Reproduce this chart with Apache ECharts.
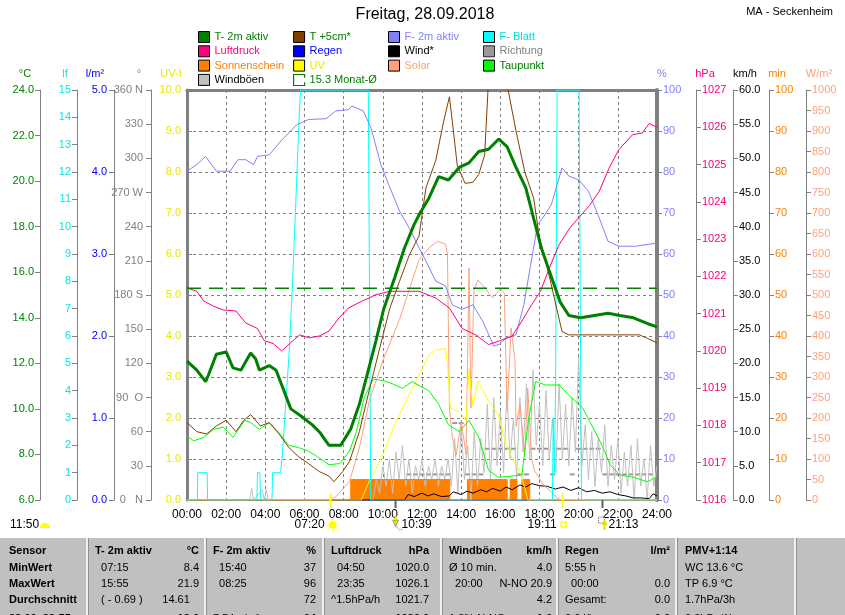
<!DOCTYPE html>
<html>
<head>
<meta charset="utf-8">
<title>Freitag, 28.09.2018</title>
<script src="https://cdn.jsdelivr.net/npm/echarts/dist/echarts.min.js"></script>
<style>
html,body{margin:0;padding:0;background:#ffffff;}
#chart{width:845px;height:615px;}
</style>
</head>
<body>
<div id="chart"></div>
<script>
// ================= DATA =================
const hourLabels = ['00:00','02:00','04:00','06:00','08:00','10:00','12:00','14:00','16:00','18:00','20:00','22:00','24:00'];
const directionLabels = {0:'0   N', 90:'90  O', 180:'180 S', 270:'270 W', 360:'360 N'};

// [hour, °C]
const temp2m = [[0,12.1],[0.5,11.7],[0.95,11.2],[1.1,11.5],[1.5,12.4],[2.0,12.5],[2.35,11.8],[2.75,11.7],[3.25,12.45],[3.5,12.2],[3.7,11.7],[4.2,11.9],[4.55,11.7],[4.95,10.8],[5.3,10.0],[5.8,9.7],[6.4,9.3],[6.8,8.95],[7.25,8.4],[7.85,8.4],[8.35,9.1],[8.8,10.2],[9.2,11.5],[9.65,13.0],[10.05,14.4],[10.6,15.75],[11.1,17.05],[11.6,18.1],[11.9,18.6],[12.35,19.25],[12.85,20.2],[13.35,20.05],[13.9,20.6],[14.4,20.8],[14.9,21.3],[15.4,21.4],[15.92,21.85],[16.35,21.5],[16.8,20.6],[17.3,19.7],[17.75,18.2],[18.1,17.05],[18.5,16.05],[19.05,14.7],[19.5,14.1],[20.1,14.0],[20.8,14.1],[21.5,14.2],[22.1,14.1],[22.8,14.0],[23.5,13.75],[24,13.6]];
const temp5cm = [[0,9.4],[0.5,9.0],[1.0,8.9],[1.5,9.25],[2.0,9.5],[2.5,9.0],[2.9,9.5],[3.25,9.75],[3.75,9.25],[4.2,9.4],[4.7,8.9],[5.2,8.3],[5.7,7.9],[6.2,7.6],[6.75,7.25],[7.25,7.05],[7.5,6.8],[7.95,7.25],[8.3,7.7],[8.8,9.0],[9.3,10.8],[9.85,12.7],[10.35,14.4],[10.85,15.6],[11.35,16.75],[11.85,17.6],[12.2,19.7],[12.7,20.9],[13.1,22.6],[13.4,23.7],[13.55,22.6],[13.8,20.7],[14.2,19.9],[14.6,19.95],[14.9,20.3],[15.2,21.15],[15.4,24.5],[15.6,25.5],[16.0,26.0],[16.4,24.0],[16.8,22.2],[17.25,20.4],[17.7,19.25],[18.0,17.5],[18.4,16.2],[18.8,14.7],[19.15,13.4],[19.5,13.25],[23.1,13.25],[23.5,13.1],[24,12.9]];
const dewPoint = [[0,8.8],[0.35,8.6],[0.85,8.75],[1.35,9.1],[1.85,9.2],[2.35,8.75],[2.95,9.5],[3.25,9.4],[3.7,9.1],[4.2,9.4],[4.7,8.95],[5.2,8.4],[5.7,8.3],[6.2,8.15],[6.75,7.85],[7.25,7.55],[7.8,7.6],[8.3,8.15],[8.65,9.0],[9.05,10.5],[9.5,11.3],[10.0,11.25],[10.5,11.1],[11.0,10.9],[11.5,11.2],[11.9,11.0],[12.35,10.8],[12.85,10.2],[13.35,9.3],[13.9,9.0],[14.4,9.5],[14.9,8.75],[15.4,7.3],[15.9,7.0],[16.6,7.05],[17.1,7.1],[17.45,9.6],[17.8,11.2],[18.3,11.05],[19.0,11.05],[19.5,10.6],[20.2,10.05],[20.75,9.15],[21.25,8.3],[21.6,7.55],[22.1,7.1],[22.8,7.0],[23.5,6.8],[24,7.0]];
const monthMean = 15.3;
// [hour, %]
const humidity2m = [[0,80.2],[0.5,81.8],[0.95,83.8],[1.5,80.2],[2.2,80.2],[2.6,83],[3.0,83],[3.4,81.8],[3.6,83.8],[4.2,84.2],[4.8,87.6],[5.6,91.5],[6.2,92.8],[7.1,93],[7.6,94.9],[8.25,95.2],[8.42,96.1],[9.0,94.9],[9.4,90.7],[9.9,81.8],[10.3,76.9],[10.85,70.5],[11.35,66.3],[11.85,61.5],[12.2,58.3],[12.7,53.4],[13.2,52.2],[13.55,47.6],[14.05,46.5],[14.6,47.6],[15.1,43.6],[15.67,37.5],[15.95,38],[16.3,39.5],[16.8,40.3],[17.2,47.6],[17.55,57.4],[17.9,67.1],[18.2,69],[18.6,72],[18.9,76.9],[19.15,81],[19.5,79],[20.0,78.1],[20.5,75.3],[21.0,69.4],[21.5,63.1],[22.05,61.9],[22.9,61.9],[23.9,62.6],[24,62.6]];
// [hour, lf]
const leafWetness = [[0,0],[0.53,0],[0.55,1],[1.03,1],[1.05,0],[3.57,0],[3.6,1],[3.72,1],[3.75,0],[4.34,0],[4.37,1],[4.78,1],[4.87,1.65],[5.04,3.5],[5.21,5.3],[5.38,7.75],[5.55,10.8],[5.72,13.9],[5.8,15],[9.26,15],[9.38,0],[18.66,0],[18.7,3],[18.76,1],[18.82,4],[18.9,15],[20.02,15],[20.14,0],[24,0]];
// [hour, hPa]
const pressure = [[0,1021.69],[0.5,1021.6],[0.85,1021.34],[1.35,1021.2],[1.85,1021.1],[2.5,1021.07],[3.0,1020.75],[3.6,1020.6],[3.95,1020.27],[4.4,1020.2],[4.83,1020.0],[5.25,1020.2],[5.75,1020.43],[6.25,1020.35],[6.75,1020.4],[7.25,1020.53],[7.75,1020.88],[8.25,1021.15],[8.95,1021.34],[9.3,1021.42],[9.6,1021.5],[10.35,1021.6],[11.0,1021.6],[11.85,1021.6],[12.7,1021.42],[13.4,1021.15],[14.05,1020.6],[14.75,1020.43],[15.4,1020.17],[15.95,1020.27],[16.6,1020.4],[17.1,1020.8],[17.6,1021.24],[18.05,1021.6],[18.5,1022.22],[19.0,1022.85],[19.55,1023.3],[20.05,1023.6],[20.55,1023.9],[21.05,1024.28],[21.55,1024.9],[22.05,1025.4],[22.75,1025.8],[23.25,1025.85],[23.6,1026.1],[24,1026.0]];
// [hour, l/m²]
const rain = [[0,0],[24,0]];
// [hour, km/h]
const wind = [[0,0],[11.1,0],[11.3,0.8],[11.6,0.5],[12.0,1.0],[12.3,0.6],[12.6,0.9],[13.0,0.5],[13.4,0.6],[13.6,1.2],[14.0,0.8],[14.3,1.3],[14.6,1.0],[15.0,1.5],[15.3,1.2],[15.6,1.7],[16.0,1.3],[16.3,1.9],[16.6,1.5],[17.0,2.2],[17.3,1.9],[17.6,2.4],[18.0,2.1],[18.4,2.0],[18.8,1.6],[19.2,1.9],[19.6,1.4],[20.0,1.8],[20.4,1.2],[20.8,1.4],[21.2,1.0],[21.6,1.2],[22.0,0.8],[22.4,0.6],[22.8,0.3],[23.2,0.3],[23.6,0.2],[23.8,0.9],[24,0.6]];
const gustEarly = [[0,0],[3.2,0],[3.3,1.7],[3.4,0],[3.85,1.5],[3.95,0],[4.05,1.5],[4.15,0],[9.3,0]];
const gustStartHour = 9.5;
const gustStepHours = 1/6;
const gustValues = [0,3,1,5,2,6,1,7,3,8,2,6,1,5,3,6,2,5,3,6,2,5,3,6,2,9,1,11,3,8,0,10,2,9,4,14,3,15,5,13,4,16,6,12,3,15,7,17,6,19,8,14,5,16,6,12,4,17,6,14,5,15,7,20.9,5,11,3,10,2,9,4,11,2,8,3,9,1,7,2,8,0,9,2,6,0,8,2,5];
// [hour, degrees]
const windDirection = [[11.33,22.5],[11.67,22.5],[12.0,22.5],[12.33,22.5],[12.67,22.5],[13.0,22.5],[13.33,22.5],[13.67,67.5],[14.0,67.5],[14.33,22.5],[14.67,22.5],[15.0,22.5],[15.33,45],[15.67,45],[16.0,45],[16.33,45],[16.67,45],[17.0,22.5],[17.33,22.5],[17.67,45],[18.0,45],[18.33,45],[18.67,22.5],[19.0,45],[19.33,45],[19.67,22.5],[20.0,45],[20.33,45],[20.67,45],[21.0,45],[21.33,22.5],[21.67,22.5],[22.0,22.5],[22.33,22.5],[22.67,22.5],[23.0,22.5],[23.33,22.5],[23.67,22.5]];
// [hour, sunshine minutes] (step, value holds until next point)
const sunshine = [[0,0],[8.36,5],[13.42,0],[14.32,5],[16.35,0],[16.5,5],[16.85,0],[17.1,5],[17.5,0],[24,0]];
// [hour, UV-index]
const uvIndex = [[0,0],[8.9,0],[9.3,0.45],[10.0,1.1],[10.65,1.9],[11.35,2.57],[11.9,3.1],[12.36,3.54],[12.7,3.66],[13.2,3.7],[13.3,3.3],[13.45,2.24],[13.9,2.15],[14.25,1.95],[14.4,3.18],[14.6,2.3],[14.85,2.9],[15.4,2.41],[15.9,2.08],[16.25,1.43],[16.6,1.02],[17.0,0.7],[17.25,0.3],[17.4,0],[24,0]];
// [hour, W/m²]
const solar = [[0,0],[7.3,0],[7.6,8],[8.3,45],[8.8,127],[9.3,240],[10.0,340],[10.85,440],[11.5,535],[11.85,586],[12.36,615],[12.8,631],[13.2,624],[13.3,600],[13.4,224],[13.55,151],[13.75,110],[14.0,193],[14.25,110],[14.4,566],[14.5,224],[14.65,510],[14.85,537],[15.25,515],[15.6,493],[16.0,515],[16.2,505],[16.35,217],[16.55,420],[16.75,339],[16.8,180],[17.0,232],[17.25,110],[17.4,273],[17.6,100],[17.75,71],[18.2,37],[18.6,20],[18.9,5],[19.1,0],[24,0]];

const sunMoonEvents = [
  {label:'07:20', hour:7+20/60, kind:'sunrise'},
  {label:'10:39', hour:10+39/60, kind:'moonset'},
  {label:'19:11', hour:19+11/60, kind:'sunset'},
  {label:'21:13', hour:21+13/60, kind:'moonrise'}
];
const prevEventLabel = '11:50';

const legendColumns = [
  [['T- 2m aktiv','#008000'],['Luftdruck','#ff0080'],['Sonnenschein','#ff8000'],['Windböen','#000000']],
  [['T +5cm*','#008000'],['Regen','#0000ff'],['UV','#e8e800'],['15.3 Monat-Ø','#008000']],
  [['F- 2m aktiv','#8080ff'],['Wind*','#000000'],['Solar','#ffa07a']],
  [['F- Blatt','#00e0e0'],['Richtung','#808080'],['Taupunkt','#008000']]
];

// table: each row -> per column [leftText, rightText]
const tableRows = [
  [['Sensor',''],['T- 2m aktiv','°C'],['F- 2m aktiv','%'],['Luftdruck','hPa'],['Windböen','km/h'],['Regen','l/m²'],['PMV+1:14','']],
  [['MinWert',''],['  07:15','8.4'],['  15:40','37'],['  04:50','1020.0'],['Ø 10 min.','4.0'],['5:55 h',''],['WC 13.6 °C','']],
  [['MaxWert',''],['  15:55','21.9'],['  08:25','96'],['  23:35','1026.1'],['  20:00','N-NO 20.9'],['  00:00','0.0'],['TP 6.9 °C','']],
  [['Durchschnitt',''],['  ( - 0.69 )','14.61   '],['','72'],['^1.5hPa/h','1021.7'],['','4.2'],['Gesamt:','0.0'],['1.7hPa/3h','']],
  [['28.09. 23:55',''],['','13.6'],['7.54 g/m³','64'],['   .','1026.0'],['1.8% N-NO','1.6'],['0.0 l/h','0.0'],['0.3hPa/1h','']]
];

// ================= LAYOUT =================
const FONT = '"Liberation Sans", Arial, sans-serif';
const GRID = {left:187, right:188, top:90, bottom:115};
const tableCols = {sep:[87,205,323,441,557,676,795], left:[9,95,213,331,449,565,685], right:[null,199,316,429,552,670,null]};
const tableRowY = [551,568,584,600,619];

function yAx(o){
  return {
    type:'value', position:o.pos, offset:o.off, min:o.min, max:o.max, interval:o.int,
    axisLine:{show:true, onZero:false, lineStyle:{color:'#808080', width:o.lw||1}},
    axisTick:{show:true, length:5, inside:!!o.inside, lineStyle:{color:'#808080'}},
    axisLabel:{color:o.color, fontSize:11, fontFamily:FONT, margin:o.margin, formatter:o.fmt},
    splitLine:{show:!!o.split, lineStyle:{color:'#808080', type:[3,3], width:1}}
  };
}
const f1 = v => v.toFixed(1);

const yAxes = [
  yAx({pos:'left', off:0, min:0, max:10, int:1, color:'#e8e800', margin:6, fmt:f1, lw:3, inside:true, split:true}), // 0 UV-I
  yAx({pos:'left', off:36, min:0, max:360, int:30, color:'#808080', margin:8, fmt:v => directionLabels[v] !== undefined ? directionLabels[v] : String(v)}), // 1 °
  yAx({pos:'left', off:73, min:0, max:5, int:1, color:'#0000ff', margin:7, fmt:f1}), // 2 l/m²
  yAx({pos:'left', off:110, min:0, max:15, int:1, color:'#00e8e8', margin:6, fmt:v => String(v)}), // 3 lf
  yAx({pos:'left', off:147, min:6, max:24, int:2, color:'#008000', margin:6, fmt:f1}), // 4 °C
  yAx({pos:'right', off:0, min:0, max:100, int:10, color:'#8080ff', margin:6, fmt:v => String(v), lw:4}), // 5 %
  yAx({pos:'right', off:39, min:1016, max:1027, int:1, color:'#ff0080', margin:6, fmt:v => String(v)}), // 6 hPa
  yAx({pos:'right', off:76, min:0, max:60, int:5, color:'#000000', margin:6, fmt:f1}), // 7 km/h
  yAx({pos:'right', off:112, min:0, max:100, int:10, color:'#ff8000', margin:6, fmt:v => String(v)}), // 8 min
  yAx({pos:'right', off:149, min:0, max:1000, int:50, color:'#ffa07a', margin:6, fmt:v => String(v)}) // 9 W/m²
];

function line(name, data, yi, color, extra){
  return Object.assign({
    type:'line', name:name, data:data, xAxisIndex:0, yAxisIndex:yi,
    showSymbol:false, symbol:'none', silent:true, animation:false,
    lineStyle:{color:color, width:1}, itemStyle:{color:color}
  }, extra || {});
}

const gusts = gustEarly.concat(gustValues.map((v,i) => [gustStartHour + i*gustStepHours, v]));

const series = [
  line('Regen', rain, 2, '#0000ff'),
  line('Windböen', gusts, 7, '#c0c0c0'),
  line('Sonnenschein', sunshine, 8, '#ff8000', {step:'end', areaStyle:{color:'#ff8000', opacity:1}}),
  {type:'scatter', name:'Richtung', data:windDirection, xAxisIndex:0, yAxisIndex:1, symbol:'rect', symbolSize:[5,2], itemStyle:{color:'#808080'}, silent:true, animation:false},
  line('Wind*', wind, 7, '#000000'),
  line('Solar', solar, 9, '#ffa07a'),
  line('UV', uvIndex, 0, '#ffff00'),
  line('F- Blatt', leafWetness, 3, '#00ffff'),
  line('Taupunkt', dewPoint, 4, '#00ff00'),
  line('F- 2m aktiv', humidity2m, 5, '#8080ff'),
  line('Luftdruck', pressure, 6, '#ff0080'),
  line('15.3 Monat-Ø', [[0,monthMean],[24,monthMean]], 4, '#008000', {lineStyle:{color:'#008000', width:1.5, type:[14,8]}}),
  line('T +5cm*', temp5cm, 4, '#804000'),
  line('T- 2m aktiv', temp2m, 4, '#008000', {lineStyle:{color:'#008000', width:3}})
];

const legendLeft = [198, 293, 388, 483];
const legends = legendColumns.map((col, ci) => ({
  orient:'vertical', left:legendLeft[ci], top:31, padding:0, itemGap:2.3,
  itemWidth:11, itemHeight:11, selectedMode:false,
  textStyle:{fontSize:11, fontFamily:FONT, lineHeight:12},
  data: col.map(([name, color]) => {
    if (name === '15.3 Monat-Ø') {
      return {name:name, icon:'path://M10,3V0H0V10H10V7', itemStyle:{color:'rgba(0,0,0,0)', borderColor:'#008000', borderWidth:1.2}, textStyle:{color:color}};
    }
    return {name:name, icon:'rect', itemStyle:{borderColor:'#000000', borderWidth:1}, textStyle:{color:color}};
  })
}));

const option = {
  animation:false,
  backgroundColor:'#ffffff',
  grid:{left:GRID.left, right:GRID.right, top:GRID.top, bottom:GRID.bottom, containLabel:false},
  legend: legends,
  xAxis:[
    {type:'value', position:'bottom', min:0, max:24, interval:2,
     axisLine:{show:true, onZero:false, lineStyle:{color:'#808080', width:1}},
     axisTick:{show:false},
     axisLabel:{color:'#000000', fontSize:12, fontFamily:FONT, margin:9, formatter:v => hourLabels[Math.round(v/2)]},
     splitLine:{show:true, lineStyle:{color:'#808080', type:[3,3], width:1}}},
    {type:'value', position:'top', min:0, max:24, interval:2,
     axisLine:{show:true, onZero:false, lineStyle:{color:'#808080', width:3}},
     axisTick:{show:false}, axisLabel:{show:false}, splitLine:{show:false}}
  ],
  yAxis: yAxes,
  series: series
};

const chart = echarts.init(document.getElementById('chart'), null, {renderer:'canvas', width:845, height:615});
chart.setOption(option);

// ================= GRAPHICS (texts, table, events) =================
function txt(x, y, s, color, size, opts){
  opts = opts || {};
  const font = (opts.bold ? 'bold ' : '') + size + 'px ' + FONT;
  return {type:'text', x:x, y:y, z:100, silent:true,
    style:{text:s, fill:color, font:font, align:opts.align||'left', textAlign:opts.align||'left', verticalAlign:'middle', textVerticalAlign:'middle'}};
}
const g = [];
g.push(txt(425, 15, 'Freitag, 28.09.2018', '#000000', 16, {align:'center'}));
g.push(txt(833, 12, 'MA - Seckenheim', '#000000', 11, {align:'right'}));

const axisNames = [['°C',25,'#008000'],['lf',65,'#00e8e8'],['l/m²',95,'#0000ff'],['°',139,'#808080'],['UV-I',171,'#e8e800'],
  ['%',662,'#8080ff'],['hPa',705,'#ff0080'],['km/h',745,'#000000'],['min',777,'#ff8000'],['W/m²',819,'#ffa07a']];
axisNames.forEach(([s,x,c]) => g.push(txt(x, 74, s, c, 11, {align:'center'})));

// previous-day event at far left
g.push(txt(10, 525, prevEventLabel, '#000000', 12));
g.push({type:'sector', z:100, silent:true, shape:{cx:45, cy:528, r0:0, r:5, startAngle:Math.PI, endAngle:2*Math.PI}, style:{fill:'#ffff00'}});

// events located through the x axis scale
sunMoonEvents.forEach(ev => {
  const px = chart.convertToPixel({xAxisIndex:0}, ev.hour);
  const isSun = ev.kind === 'sunrise' || ev.kind === 'sunset';
  if (isSun) {
    g.push({type:'line', z:101, silent:true, shape:{x1:px, y1:493, x2:px, y2:508}, style:{stroke:'#ffff00', lineWidth:2}});
    g.push(txt(px-6, 525, ev.label, '#000000', 12, {align:'right'}));
    if (ev.kind === 'sunrise') {
      g.push({type:'circle', z:100, silent:true, shape:{cx:px+2, cy:525, r:3.5}, style:{fill:'#ffff00'}});
      [[0,-6],[0,6],[-6,0],[6,0],[-4.3,-4.3],[4.3,4.3],[-4.3,4.3],[4.3,-4.3]].forEach(([dx,dy]) => {
        g.push({type:'line', z:100, silent:true, shape:{x1:px+2, y1:525, x2:px+2+dx, y2:525+dy}, style:{stroke:'#ffff00', lineWidth:1}});
      });
    } else {
      g.push({type:'rect', z:100, silent:true, shape:{x:px-1.5, y:522, width:5, height:5}, style:{fill:'none', stroke:'#ffff00', lineWidth:1.5}});
    }
  } else {
    g.push({type:'line', z:101, silent:true, shape:{x1:px, y1:500, x2:px, y2:508}, style:{stroke:'#606060', lineWidth:2}});
    g.push(txt(px+6, 525, ev.label, '#000000', 12));
    if (ev.kind === 'moonset') {
      g.push({type:'polygon', z:100, silent:true, shape:{points:[[px-3,520],[px+3,520],[px,527]]}, style:{fill:'#e0e000', stroke:'#606060', lineWidth:0.5}});
      g.push({type:'rect', z:100, silent:true, shape:{x:px-1, y:515, width:2, height:5}, style:{fill:'#e0e000'}});
      g.push({type:'polyline', z:100, silent:true, shape:{points:[[px+1,527],[px+4,530],[px+7,529]]}, style:{stroke:'#606080', lineWidth:1, lineDash:[1,1]}});
    } else {
      g.push({type:'rect', z:100, silent:true, shape:{x:px-4, y:517, width:6, height:6}, style:{fill:'none', stroke:'#606080', lineWidth:1, lineDash:[1,1]}});
      g.push({type:'polygon', z:100, silent:true, shape:{points:[[px-1,525],[px+5,525],[px+2,519]]}, style:{fill:'#e0e000'}});
      g.push({type:'rect', z:100, silent:true, shape:{x:px+1, y:525, width:2, height:5}, style:{fill:'#e0e000'}});
    }
  }
});

// table
g.push({type:'rect', z:90, silent:true, shape:{x:0, y:537, width:845, height:78}, style:{fill:'#c0c0c0'}});
g.push({type:'line', z:91, silent:true, shape:{x1:0, y1:537.5, x2:845, y2:537.5}, style:{stroke:'#ffffff', lineWidth:1}});
tableCols.sep.forEach(x => {
  g.push({type:'rect', z:91, silent:true, shape:{x:x-1, y:538, width:2, height:77}, style:{fill:'#f0f0f0'}});
  g.push({type:'line', z:91, silent:true, shape:{x1:x+1.5, y1:538, x2:x+1.5, y2:615}, style:{stroke:'#909090', lineWidth:1}});
});
tableRows.forEach((row, ri) => {
  const y = tableRowY[ri];
  row.forEach((cell, ci) => {
    const boldLeft = ri === 0 || ci === 0;
    const boldRight = ri === 0 || ri === 4;
    if (cell[0]) g.push(txt(tableCols.left[ci], y, cell[0], '#000000', 11, {bold:boldLeft}));
    if (cell[1] && tableCols.right[ci] !== null) g.push(txt(tableCols.right[ci], y, cell[1], '#000000', 11, {bold:boldRight, align:'right'}));
  });
});

chart.setOption({graphic:{elements:g}});
</script>
</body>
</html>
